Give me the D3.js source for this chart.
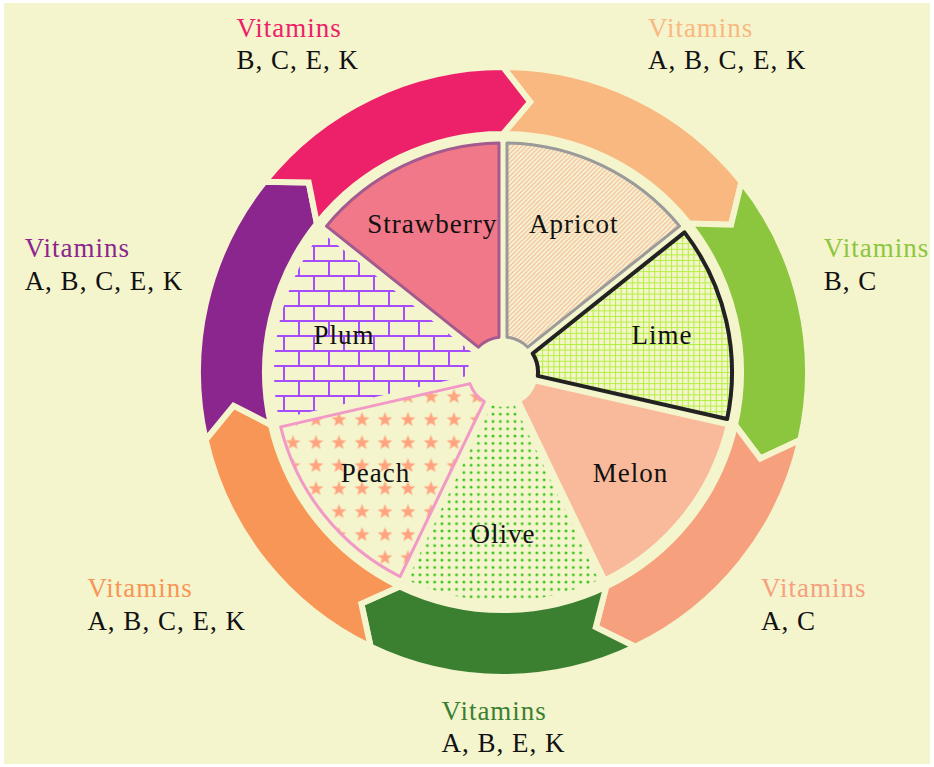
<!DOCTYPE html>
<html><head><meta charset="utf-8">
<script src="https://cdn.jsdelivr.net/npm/d3@7"></script>
<style>body{margin:0;background:#fff}svg{display:block}</style>
</head><body><svg id="c" width="934" height="767"></svg>
<script>
// ---------- data ----------
const fruits = ["Apricot","Lime","Melon","Olive","Peach","Plum","Strawberry"];
const shares = [1,1,1,1,1,1,1];
const vitaminHeading = "Vitamins";
const vitamins = ["A, B, C, E, K","B, C","A, C","A, B, E, K","A, B, C, E, K","A, B, C, E, K","B, C, E, K"];

// ---------- styles ----------
const bg = "#F4F4CD";
const ringColors  = ["#F9B87F","#8CC63F","#F6A07E","#3B7F31","#F79656","#8B268E","#ED2169"];
const sliceFill   = ["url(#pHatch)","url(#pGrid)","#F9B99B","url(#pDots)","url(#pStars)","url(#pBricks)","#F17888"];
const sliceStroke = ["#9A9A9A","#222222","none","none","#F29AC6","none","#A35A8E"];
const sliceStrokeW = [3,4,0,0,3,0,3];
const font = "'Liberation Serif','Times New Roman',serif";
const fs = 27, ls = 1;

const W = 934, H = 767, cx = 503, cy = 372;
const svg = d3.select("#c");
svg.append("rect").attr("x",4).attr("y",3).attr("width",926).attr("height",761).attr("fill",bg);

// ---------- patterns ----------
const defs = svg.append("defs");
{
  const p = defs.append("pattern").attr("id","pHatch").attr("patternUnits","userSpaceOnUse")
    .attr("width",4.5).attr("height",4.5);
  p.append("rect").attr("width",4.5).attr("height",4.5).attr("fill",bg);
  p.append("path").attr("d","M-1,5.5 L5.5,-1 M-1,1 L1,-1 M3.5,5.5 L5.5,3.5")
    .attr("stroke","#F8B09A").attr("stroke-width",1);
}
{
  const p = defs.append("pattern").attr("id","pGrid").attr("patternUnits","userSpaceOnUse")
    .attr("width",5.6).attr("height",5.6);
  p.append("rect").attr("width",5.6).attr("height",5.6).attr("fill",bg);
  p.append("path").attr("d","M0,0.5 H5.6 M0.5,0 V5.6").attr("stroke","#B2F03C").attr("stroke-width",1);
}
{
  const p = defs.append("pattern").attr("id","pDots").attr("patternUnits","userSpaceOnUse")
    .attr("width",7.3).attr("height",7.3).attr("x",1).attr("y",2);
  p.append("rect").attr("width",7.3).attr("height",7.3).attr("fill",bg);
  p.append("circle").attr("cx",3.65).attr("cy",3.65).attr("r",1.45).attr("fill","#35C414");
}
{
  const s = 23;
  const p = defs.append("pattern").attr("id","pStars").attr("patternUnits","userSpaceOnUse")
    .attr("width",s).attr("height",s).attr("x",20 - s/2).attr("y",1 - s/2);
  p.append("rect").attr("width",s).attr("height",s).attr("fill",bg);
  const pts = d3.range(10).map(k => {
    const r = k % 2 ? 3.3 : 7.8, a = k * Math.PI / 5;
    return [s/2 + r*Math.sin(a), s/2 - r*Math.cos(a) + 0.8];
  });
  p.append("path").attr("d", d3.line()(pts) + "Z").attr("fill","#FFA47E");
}
{
  const p = defs.append("pattern").attr("id","pBricks").attr("patternUnits","userSpaceOnUse")
    .attr("width",30).attr("height",30).attr("x",5).attr("y",8);
  p.append("rect").attr("width",30).attr("height",30).attr("fill",bg);
  p.append("path").attr("d","M0,1 H30 M0,16 H30 M1,1 V16 M16,16 V30 M16,0 V1")
    .attr("stroke","#A64DFF").attr("stroke-width",2).attr("fill","none");
}

// ---------- geometry ----------
const pie = d3.pie().value(d => d).sort(null).startAngle(0).endAngle(2*Math.PI);
const arcs = pie(shares);
const rPie = 229, rHole = 35;
const arc = d3.arc().innerRadius(rHole).outerRadius(rPie).padAngle(0.08).padRadius(100);

const rI = 238, rO = 305, rM = 271.5, head = 0.1;
const P = (r, a) => [cx + r*Math.sin(a), cy - r*Math.cos(a)];
const sa = a => a - Math.PI/2;
function ringPath(a0, a1) {
  const p = d3.path();
  let q = P(rO, a0); p.moveTo(q[0], q[1]);
  p.arc(cx, cy, rO, sa(a0), sa(a1), false);
  q = P(rM, a1 + head); p.lineTo(q[0], q[1]);
  q = P(rI, a1); p.lineTo(q[0], q[1]);
  p.arc(cx, cy, rI, sa(a1), sa(a0), true);
  q = P(rM, a0 + head); p.lineTo(q[0], q[1]);
  p.closePath();
  return p.toString();
}

// ---------- outer ring ----------
svg.append("g").selectAll("path").data(arcs).join("path")
  .attr("d", d => ringPath(d.startAngle, d.endAngle))
  .attr("fill", (d,i) => ringColors[i])
  .attr("stroke", bg).attr("stroke-width", 6).attr("stroke-linejoin","miter").attr("stroke-miterlimit",10);

// ---------- pie ----------
const gPie = svg.append("g").attr("transform", `translate(${cx},${cy})`);
gPie.selectAll("path").data(arcs).join("path")
  .attr("d", arc)
  .attr("fill", (d,i) => sliceFill[i])
  .attr("stroke", (d,i) => sliceStroke[i])
  .attr("stroke-width", (d,i) => sliceStrokeW[i])
  .attr("stroke-linejoin","round");

// slice labels
svg.append("g").selectAll("text").data(arcs).join("text")
  .attr("x", d => P(163, (d.startAngle+d.endAngle)/2)[0])
  .attr("y", d => P(163, (d.startAngle+d.endAngle)/2)[1] - 1)
  .attr("dy","0.33em").attr("text-anchor","middle")
  .attr("font-family", font).attr("font-size", fs).attr("letter-spacing", ls).attr("fill","#111")
  .text((d,i) => fruits[i]);

// ---------- vitamin labels ----------
const rLab = 325, lineGap = 32.5;
arcs.forEach((d, i) => {
  const mid = (d.startAngle + d.endAngle)/2;
  const [px, py] = P(rLab, mid);
  const g = svg.append("g");
  const t1 = g.append("text").attr("font-family", font).attr("font-size", fs).attr("letter-spacing", ls)
    .attr("fill", ringColors[i]).text(vitaminHeading);
  const t2 = g.append("text").attr("font-family", font).attr("font-size", fs).attr("letter-spacing", ls)
    .attr("fill", "#111").text(vitamins[i]);
  const w = Math.max(t1.node().getComputedTextLength(), t2.node().getComputedTextLength()) - ls;
  const sx = Math.sin(mid), cyy = Math.cos(mid);
  let left;
  if (sx > 0.2) left = px + 4;
  else if (sx < -0.2) left = px - 4 - w;
  else left = px - w/2;
  let b1;
  if (cyy > 0) b1 = py - 10 - lineGap;
  else b1 = py + 22.5;
  t1.attr("x", left).attr("y", b1);
  t2.attr("x", left).attr("y", b1 + lineGap);
});
</script></body></html>
